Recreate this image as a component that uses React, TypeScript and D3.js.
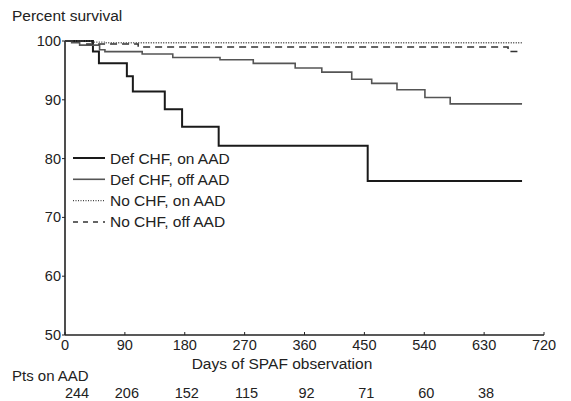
import React, { useEffect, useRef } from 'react';
import * as d3 from 'd3';

// Kaplan-Meier step points: [day, percent survival]
const defOnAAD: [number, number][] = [
  [0, 100], [42, 98.2], [51, 96.2], [93, 94.0], [102, 91.4], [150, 88.4],
  [176, 85.4], [231, 82.2], [455, 76.2], [687, 76.2],
];
const defOffAAD: [number, number][] = [
  [0, 100], [10, 99.7], [22, 99.3], [52, 98.5], [60, 98.2], [116, 97.8],
  [162, 97.2], [233, 96.8], [283, 96.2], [346, 95.4], [386, 94.7], [431, 93.5],
  [461, 92.8], [499, 91.7], [541, 90.4], [579, 89.3], [687, 89.3],
];
const noOnAAD: [number, number][] = [
  [0, 100], [40, 99.8], [60, 99.7], [687, 99.7],
];
const noOffAAD: [number, number][] = [
  [0, 100], [30, 99.5], [110, 99.0], [666, 98.2], [687, 98.2],
];

const seriesNames = ['Def CHF, on AAD', 'Def CHF, off AAD', 'No CHF, on AAD', 'No CHF, off AAD'];
const xTicks = [0, 90, 180, 270, 360, 450, 540, 630, 720];
const yTicks = [50, 60, 70, 80, 90, 100];
const ptsDays = [0, 90, 180, 270, 360, 450, 540, 630];
const ptsOnAAD = [244, 206, 152, 115, 92, 71, 60, 38];

const FONT = '"Liberation Sans", Arial, sans-serif';
const INK = '#222';

export default function App() {
  const ref = useRef<SVGSVGElement>(null);

  useEffect(() => {
    const svg = d3.select(ref.current);
    svg.selectAll('*').remove();

    const x = d3.scaleLinear().domain([0, 720]).range([65, 544]);
    const y = d3.scaleLinear().domain([50, 100]).range([335, 41]);

    const g = svg.append('g').style('font-family', FONT).attr('fill', INK);

    // title
    g.append('text').attr('x', 12).attr('y', 21).attr('font-size', 15.5).text('Percent survival');

    // axes
    g.append('line').attr('x1', x(0)).attr('x2', x(0)).attr('y1', y(100)).attr('y2', y(50))
      .attr('stroke', INK).attr('stroke-width', 1.6);
    g.append('line').attr('x1', x(0)).attr('x2', x(720)).attr('y1', y(50)).attr('y2', y(50))
      .attr('stroke', INK).attr('stroke-width', 1.6);

    yTicks.forEach(t => {
      g.append('line').attr('x1', x(0) - 3).attr('x2', x(0)).attr('y1', y(t)).attr('y2', y(t))
        .attr('stroke', INK).attr('stroke-width', 1);
      g.append('text').attr('x', x(0) - 4).attr('y', y(t) + 5).attr('text-anchor', 'end')
        .attr('font-size', 14.5).text(t);
    });
    xTicks.forEach(t => {
      g.append('line').attr('x1', x(t)).attr('x2', x(t)).attr('y1', y(50)).attr('y2', y(50) - 3)
        .attr('stroke', INK).attr('stroke-width', 1);
      g.append('text').attr('x', x(t)).attr('y', 350).attr('text-anchor', 'middle')
        .attr('font-size', 14.5).text(t);
    });

    g.append('text').attr('x', 282).attr('y', 369).attr('text-anchor', 'middle')
      .attr('font-size', 15.5).text('Days of SPAF observation');
    g.append('text').attr('x', 12).attr('y', 381).attr('font-size', 15).text('Pts on AAD');
    ptsOnAAD.forEach((n, i) => {
      g.append('text').attr('x', x(ptsDays[i]) + (i === 0 ? 12 : 2))
        .attr('y', 398).attr('text-anchor', 'middle')
        .attr('font-size', 14.5).text(n);
    });

    // curves
    const line = d3.line<[number, number]>().x(d => x(d[0])).y(d => y(d[1])).curve(d3.curveStepAfter);
    const styles = [
      { data: defOnAAD, color: '#1a1a1a', width: 2, dash: '' },
      { data: defOffAAD, color: '#555', width: 1.6, dash: '' },
      { data: noOnAAD, color: '#444', width: 1.3, dash: '1,1.5' },
      { data: noOffAAD, color: '#333', width: 1.5, dash: '7,5' },
    ];
    styles.forEach(s => {
      g.append('path').attr('d', line(s.data)).attr('fill', 'none')
        .attr('stroke', s.color).attr('stroke-width', s.width)
        .attr('stroke-dasharray', s.dash || null);
    });

    // legend
    styles.forEach((s, i) => {
      const ly = 158 + i * 21.3;
      g.append('line').attr('x1', 73).attr('x2', 105).attr('y1', ly).attr('y2', ly)
        .attr('stroke', s.color).attr('stroke-width', s.width)
        .attr('stroke-dasharray', i === 3 ? '5,5' : (s.dash || null));
      g.append('text').attr('x', 110).attr('y', ly + 5.5).attr('font-size', 15.5).text(seriesNames[i]);
    });
  }, []);

  return <svg ref={ref} width={571} height={401} style={{ position: 'absolute', left: 0, top: 0 }} />;
}
